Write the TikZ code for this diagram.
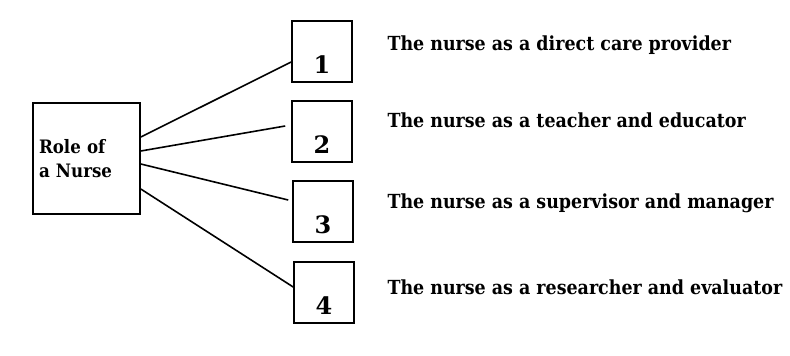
\documentclass[tikz,border=0pt]{standalone}
\usepackage{fontspec}
\setmainfont{DejaVu Serif}
\newfontfamily\condserif{DejaVu Serif Condensed}

\begin{document}
\begin{tikzpicture}[x=1pt, y=-1pt,
	box/.style={draw, line width=1.6pt, inner sep=0pt, minimum width=60pt, minimum height=61pt},
	num/.style={anchor=base, font=\bfseries\fontsize{24}{26}\selectfont},
	role text/.style={anchor=west, font=\condserif\bfseries\fontsize{19.4}{23}\selectfont},
	link/.style={line width=1.6pt}]
	\useasboundingbox (0,0) rectangle (790,356);
	\node[draw, line width=1.6pt, minimum width=107pt, minimum height=111pt, text width=95pt, inner xsep=6pt, align=left, font=\condserif\bfseries\fontsize{18.5}{24}\selectfont] (role) at (86.5,158.5) {Role of\\a Nurse};
	\node[box] (b1) at (322,51.5) {};
	\node[box] (b2) at (322,131.5) {};
	\node[box] (b3) at (323,211.5) {};
	\node[box] (b4) at (324,292.5) {};
	\node[num] (n1) at ([yshift=9.5pt]b1.south) {1};
	\node[num] (n2) at ([yshift=9.5pt]b2.south) {2};
	\node[num] (n3) at ([yshift=9.5pt]b3.south) {3};
	\node[num] (n4) at ([yshift=9.5pt]b4.south) {4};
	\node[role text] (r1) at (384,45) {The nurse as a direct care provider};
	\node[role text] (r2) at (384,120) {The nurse as a teacher and educator};
	\node[role text] (r3) at (384,203) {The nurse as a supervisor and manager};
	\node[role text] (r4) at (384,287) {The nurse as a researcher and evaluator};
	\draw[link] ([yshift=21.5pt]role.east) -- ([yshift=-10.5pt]b1.west);
	\draw[link] ([yshift=7.5pt]role.east) -- ([xshift=-6pt,yshift=5.5pt]b2.west);
	\draw[link] ([yshift=-5.5pt]role.east) -- ([xshift=-4pt,yshift=11.5pt]b3.west);
	\draw[link] ([yshift=-30.5pt]role.east) -- ([yshift=5.5pt]b4.west);
\end{tikzpicture}
\end{document}
